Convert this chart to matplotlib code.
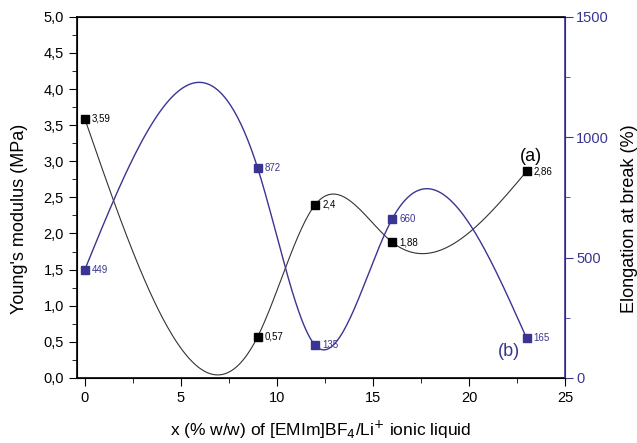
import numpy as np
import matplotlib.pyplot as plt
from matplotlib.ticker import MultipleLocator, FuncFormatter

plt.rcParams['font.family'] = ['Liberation Sans', 'DejaVu Sans']

# ionic liquid content (% w/w)
x = [0, 9, 12, 16, 23]
# Young's modulus (MPa)
modulus = [3.59, 0.57, 2.4, 1.88, 2.86]
modulus_labels = ['3,59', '0,57', '2,4', '1,88', '2,86']
# elongation at break (%)
elongation = [449, 872, 135, 660, 165]
elongation_labels = ['449', '872', '135', '660', '165']

BLUE = '#3a3592'


def natural_spline(xs, ys, n=400):
    xs = np.asarray(xs, float)
    ys = np.asarray(ys, float)
    k = len(xs)
    h = np.diff(xs)
    A = np.zeros((k, k))
    b = np.zeros(k)
    A[0, 0] = A[-1, -1] = 1
    for i in range(1, k - 1):
        A[i, i - 1] = h[i - 1]
        A[i, i] = 2 * (h[i - 1] + h[i])
        A[i, i + 1] = h[i]
        b[i] = 6 * ((ys[i + 1] - ys[i]) / h[i] - (ys[i] - ys[i - 1]) / h[i - 1])
    m = np.linalg.solve(A, b)
    xf = np.linspace(xs[0], xs[-1], n)
    idx = np.clip(np.searchsorted(xs, xf) - 1, 0, k - 2)
    x0, x1 = xs[idx], xs[idx + 1]
    hh = x1 - x0
    t0, t1 = x1 - xf, xf - x0
    yf = (m[idx] * t0 ** 3 + m[idx + 1] * t1 ** 3) / (6 * hh) \
        + (ys[idx] / hh - m[idx] * hh / 6) * t0 \
        + (ys[idx + 1] / hh - m[idx + 1] * hh / 6) * t1
    return xf, yf


fig = plt.figure(figsize=(6.37, 4.43), dpi=100)
ax = fig.add_axes([0.121, 0.147, 0.766, 0.815])
ax2 = ax.twinx()

comma = FuncFormatter(lambda v, p: ('%.1f' % v).replace('.', ','))

# modulus curve (a)
xs, ys = natural_spline(x, modulus)
ax.plot(xs, ys, color='#333333', lw=0.8)
ax.plot(x, modulus, 's', color='black', ms=5.5)
for xi, yi, lab in zip(x, modulus, modulus_labels):
    ax.annotate(lab, (xi, yi), xytext=(5, 0), textcoords='offset points',
                fontsize=7, va='center', color='black')
ax.text(23.2, 3.06, '(a)', fontsize=13, ha='center', va='center')

# elongation curve (b)
xs, ys = natural_spline(x, elongation)
ax2.plot(xs, ys, color=BLUE, lw=1.0)
ax2.plot(x, elongation, 's', color=BLUE, ms=5.5)
for xi, yi, lab in zip(x, elongation, elongation_labels):
    ax2.annotate(lab, (xi, yi), xytext=(5, 0), textcoords='offset points',
                 fontsize=7, va='center', color=BLUE)
ax2.text(22.1, 108, '(b)', fontsize=13, ha='center', va='center', color=BLUE)

ax.set_xlim(-0.4, 25)
ax.set_ylim(0, 5)
ax2.set_ylim(0, 1500)

ax.xaxis.set_major_locator(MultipleLocator(5))
ax.xaxis.set_minor_locator(MultipleLocator(2.5))
ax.yaxis.set_major_locator(MultipleLocator(0.5))
ax.yaxis.set_minor_locator(MultipleLocator(0.25))
ax.yaxis.set_major_formatter(comma)
ax2.yaxis.set_major_locator(MultipleLocator(500))
ax2.yaxis.set_minor_locator(MultipleLocator(250))

ax.tick_params(which='both', direction='out', labelsize=10.5)
ax.tick_params(which='major', length=6)
ax.tick_params(which='minor', length=3.5)
ax2.tick_params(which='both', direction='out', colors=BLUE, labelsize=10.5)
ax2.tick_params(which='major', length=6, pad=2)
ax2.tick_params(which='minor', length=3.5)
ax2.spines['right'].set_color(BLUE)
ax2.spines['right'].set_linewidth(1.2)
for s in ('left', 'bottom', 'top'):
    ax.spines[s].set_linewidth(1.2)

ax.set_xlabel('x (% w/w) of [EMIm]BF$_4$/Li$^{+}$ ionic liquid', fontsize=12.5, labelpad=10)
ax.set_ylabel("Young's modulus (MPa)", fontsize=13)
ax.yaxis.set_label_coords(-0.100, 0.44)
ax2.set_ylabel('Elongation at break (%)', fontsize=13)
ax2.yaxis.set_label_coords(1.115, 0.44)

fig.savefig('out.png', dpi=100)
